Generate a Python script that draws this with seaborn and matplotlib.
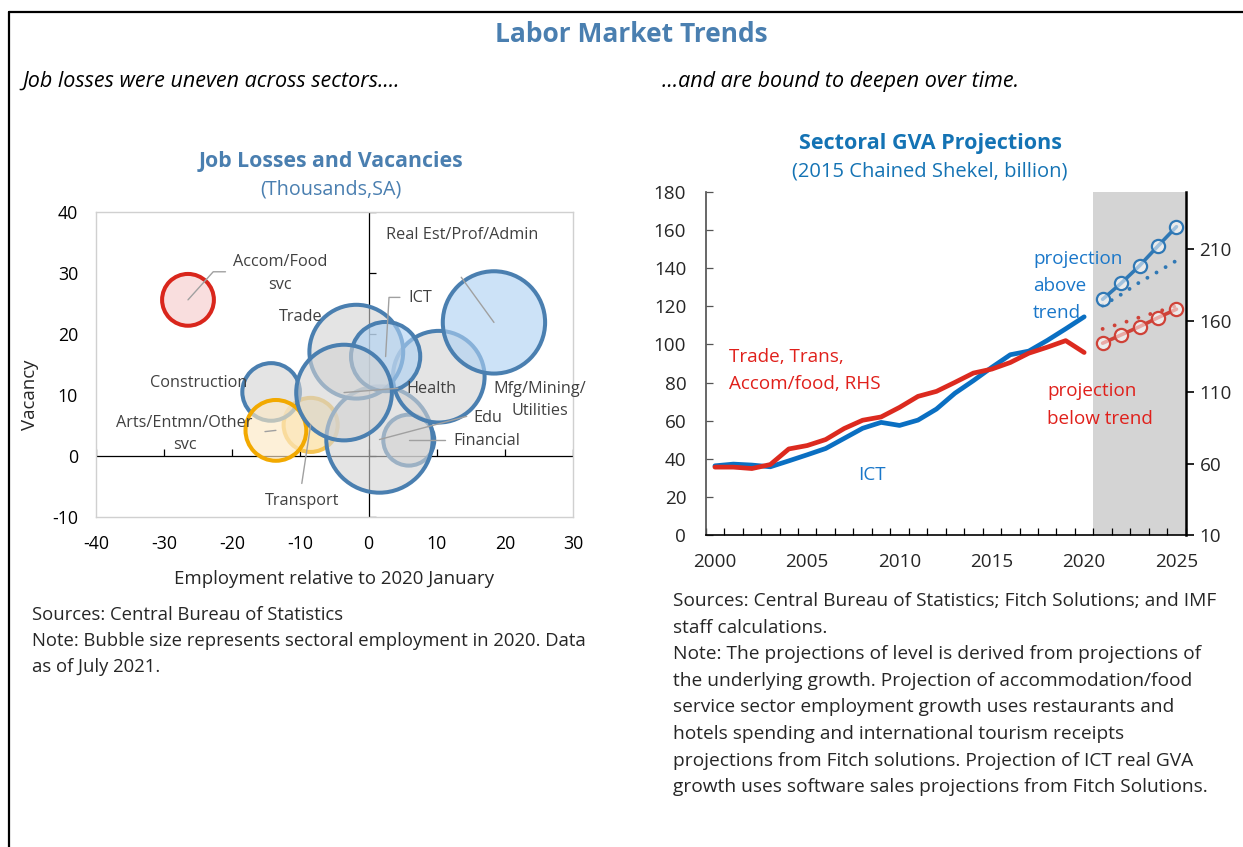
import matplotlib
matplotlib.use("Agg")
import numpy as np
import pandas as pd
import matplotlib.pyplot as plt
import seaborn as sns
from matplotlib.lines import Line2D
from matplotlib.colors import to_rgba

# -------------------------
# Data: job losses and vacancies (bubble chart)
# -------------------------
sectors = ["Transport", "Financial", "Edu", "Mfg/Mining/Utilities", "Trade",
           "Construction", "Arts/Entmn/Other svc", "ICT", "Health",
           "Real Est/Prof/Admin", "Accom/Food svc"]
emp_change = [-8.5, 5.9, 1.6, 10.3, -1.8, -14.3, -13.6, 2.5, -3.6, 18.4, -26.5]
vacancy = [5.1, 2.6, 2.7, 13.0, 17.1, 10.5, 4.2, 16.3, 10.4, 21.9, 25.6]
employment_2020 = [133, 118, 514, 382, 400, 151, 168, 218, 416, 476, 122]

# -------------------------
# Data: sectoral GVA (2015 chained shekel, billion)
# -------------------------
years = list(range(2000, 2021))
ict_gva = [36.3, 37.2, 36.7, 35.8, 38.9, 42.1, 45.4, 50.7, 56.0, 59.1, 57.5,
           60.3, 66.1, 74.4, 81.0, 88.0, 94.6, 96.5, 102.1, 108.2, 114.5]
trade_gva = [57.5, 57.5, 56.5, 59.3, 70.2, 72.6, 76.8, 84.5, 90.3, 92.6, 99.3,
             107.0, 110.5, 116.8, 123.3, 126.1, 130.7, 137.2, 141.4, 146.0, 137.7]
proj_years = [2021, 2022, 2023, 2024, 2025]
ict_proj = [123.7, 132.1, 141.3, 151.7, 161.8]
ict_trend = [120.4, 126.2, 132.6, 138.2, 144.0]
trade_proj = [144.2, 150.0, 155.8, 162.1, 168.0]
trade_trend = [154.2, 158.0, 162.3, 166.3, 170.3]

W, H = 1243, 847
STEEL = "#4a7fb0"
BLUE = "#0a6fc2"
RED = "#dc2a1f"
PBLUE = "#2f78b5"
PRED = "#cf4238"
TXT = "#404040"

sns.set_theme(style="white")
plt.rcParams["font.family"] = ["Open Sans", "DejaVu Sans"]
plt.rcParams["axes.unicode_minus"] = False

fig = plt.figure(figsize=(W / 100, H / 100), dpi=100)


def ftext(x, y, s, **kw):
    kw.setdefault("va", "center")
    fig.text(x / W, 1 - y / H, s, **kw)


def px_axes(x0, y0, x1, y1):
    return fig.add_axes([x0 / W, 1 - y1 / H, (x1 - x0) / W, (y1 - y0) / H])


# outer frame (left and top edges)
fig.add_artist(Line2D([9 / W, 9 / W], [0, 1 - 12 / H], transform=fig.transFigure,
                      color="black", lw=1.6))
fig.add_artist(Line2D([9 / W, 1], [1 - 12 / H, 1 - 12 / H], transform=fig.transFigure,
                      color="black", lw=1.6))

ftext(631, 35, "Labor Market Trends", ha="center", fontsize=19,
      fontweight="bold", color=STEEL)
ftext(22, 81, "Job losses were uneven across sectors....", ha="left",
      fontsize=15.5, style="italic", color="black")
ftext(662, 81, "...and are bound to deepen over time.", ha="left",
      fontsize=15.5, style="italic", color="black")

# -------------------------
# Left panel: bubble chart
# -------------------------
ftext(331, 161, "Job Losses and Vacancies", ha="center", fontsize=15.3,
      fontweight="bold", color=STEEL)
ftext(331, 189, "(Thousands,SA)", ha="center", fontsize=14.2, color=STEEL)

ax1 = px_axes(96, 212, 573, 517)
ax1.set_xlim(-40, 30)
ax1.set_ylim(-10, 40)
ax1.axhline(0, color="black", lw=0.9, zorder=1)
ax1.axvline(0, color="black", lw=0.9, zorder=1)

bub = pd.DataFrame({"sector": sectors, "x": emp_change, "y": vacancy,
                    "emp": employment_2020})
emax = bub["emp"].max()
sns.scatterplot(data=bub, x="x", y="y", size="emp", sizes=(0, 11.4 * emax),
                size_norm=(0, emax), legend=False, ax=ax1, zorder=3)

gray_face = to_rgba("#d3d3d3", 0.6)
blue_face = to_rgba("#aed1f3", 0.62)
face = {s: gray_face for s in sectors}
edge = {s: STEEL for s in sectors}
face["ICT"] = blue_face
face["Real Est/Prof/Admin"] = blue_face
face["Arts/Entmn/Other svc"] = to_rgba("#fce8c4", 0.65)
edge["Arts/Entmn/Other svc"] = "#f2a900"
face["Transport"] = to_rgba("#fbd98c", 0.6)
edge["Transport"] = "#f5c453"
face["Accom/Food svc"] = to_rgba("#f6c8c8", 0.6)
edge["Accom/Food svc"] = "#d9261c"

coll = ax1.collections[-1]
coll.set_facecolor([face[s] for s in sectors])
coll.set_edgecolor([edge[s] for s in sectors])
coll.set_linewidth(2.9)

# tick marks on the axes that cross at the origin
xt = np.arange(-40, 31, 10)
yt = np.arange(-10, 41, 10)
ax1.plot(xt, np.zeros_like(xt), ls="none", marker=2, ms=5, mew=0.9,
         color="black", zorder=1)
ax1.plot(np.zeros_like(yt), yt, ls="none", marker=1, ms=5, mew=0.9,
         color="black", zorder=1)

# labels with leader lines: (text lines, text x, text y, ha, leader path)
labels = {
    "Accom/Food svc": (["Accom/Food", "svc"], -13.0, 29.9, "center",
                       [(-21.0, 30.2), (-22.8, 30.2)]),
    "Real Est/Prof/Admin": (["Real Est/Prof/Admin"], 2.6, 36.3, "left",
                            [(13.6, 29.3)]),
    "ICT": (["ICT"], 5.8, 25.9, "left", [(4.6, 26.0), (3.0, 26.0)]),
    "Trade": (["Trade"], -10.0, 22.8, "center", None),
    "Construction": (["Construction"], -25.0, 11.9, "center", None),
    "Arts/Entmn/Other svc": (["Arts/Entmn/Other", "svc"], -27.0, 3.6, "center",
                             [(-15.2, 4.0)]),
    "Transport": (["Transport"], -9.8, -7.3, "center", [(-9.8, -4.5)]),
    "Health": (["Health"], 5.6, 11.0, "left", [(4.3, 11.1)]),
    "Mfg/Mining/Utilities": (["Mfg/Mining/", "Utilities"], 25.1, 9.2, "center",
                             None),
    "Edu": (["Edu"], 17.5, 6.2, "center", [(14.4, 6.5)]),
    "Financial": (["Financial"], 12.4, 2.5, "left", [(11.2, 2.6)]),
}
line_gap = 3.7  # vertical step between label lines, in data units
for s, cx, cy in zip(sectors, emp_change, vacancy):
    parts, tx, ty, ha, path = labels[s]
    if path:
        pts = path + [(cx, cy)]
        ax1.plot([p[0] for p in pts], [p[1] for p in pts], color="#a0a0a0",
                 lw=1.0, zorder=4)
    top = ty + line_gap * (len(parts) - 1) / 2
    for k, part in enumerate(parts):
        ax1.text(tx, top - k * line_gap, part, ha=ha, va="center",
                 fontsize=11.7, color=TXT, zorder=5)

ax1.set_xticks(xt)
ax1.set_yticks(yt)
ax1.tick_params(length=0, pad=13, labelsize=12.8, colors="black")
for sp in ax1.spines.values():
    sp.set_color("#d0d0d0")
    sp.set_linewidth(1.0)
ax1.set_xlabel("")
ax1.set_ylabel("")
ftext(30, 395, "Vacancy", ha="center", rotation=90, fontsize=13.4)
ftext(334, 579, "Employment relative to 2020 January", ha="center", fontsize=13.4)

left_notes = ["Sources: Central Bureau of Statistics",
              "Note: Bubble size represents sectoral employment in 2020. Data",
              "as of July 2021."]
for i, line in enumerate(left_notes):
    ftext(32, 615 + 26 * i, line, ha="left", fontsize=13.3)

# -------------------------
# Right panel: GVA projections
# -------------------------
ftext(930, 143, "Sectoral GVA Projections", ha="center", fontsize=15.5,
      fontweight="bold", color="#1473b4")
ftext(930, 171, "(2015 Chained Shekel, billion)", ha="center", fontsize=14.5,
      color="#1473b4")

ax2 = px_axes(705.7, 192, 1185.7, 535)
ax2.axvspan(2020.5, 2025.5, color="#d4d4d4", lw=0, zorder=0)
sns.lineplot(x=years, y=ict_gva, ax=ax2, color=BLUE, lw=3.4, zorder=3)
sns.lineplot(x=proj_years, y=ict_trend, ax=ax2, color=PBLUE, lw=2.8,
             linestyle=(0, (0.01, 2.7)), dash_capstyle="round", zorder=3)
sns.lineplot(x=proj_years, y=ict_proj, ax=ax2, color=PBLUE, lw=2.6,
             marker="o", markersize=9.5, markerfacecolor=to_rgba("white", 0.55),
             markeredgecolor=PBLUE, markeredgewidth=1.6, zorder=4)
ax2.set_xlim(1999.5, 2025.5)
ax2.set_ylim(0, 180)
ax2.set_yticks(np.arange(0, 181, 20))
ax2.set_xticks(np.arange(2000, 2026, 5))
ax2.set_xticks(np.arange(1999.5, 2026, 1), minor=True)
ax2.tick_params(axis="x", which="major", length=0, pad=13, labelsize=13.6)
ax2.tick_params(axis="x", which="minor", direction="in", length=5,
                width=0.9, color="black", bottom=True)
ax2.tick_params(axis="y", direction="in", length=5, width=0.9, pad=14,
                labelsize=13.6, color="#555555", left=True)
ax2.spines["top"].set_visible(False)
ax2.spines["right"].set_visible(False)
ax2.spines["left"].set_color("#555555")
ax2.spines["bottom"].set_color("black")
ax2.spines["bottom"].set_linewidth(1.2)
ax2.set_xlabel("")
ax2.set_ylabel("")

ax3 = ax2.twinx()
sns.lineplot(x=years, y=trade_gva, ax=ax3, color=RED, lw=3.4, zorder=3)
sns.lineplot(x=proj_years, y=trade_trend, ax=ax3, color=PRED, lw=2.8,
             linestyle=(0, (0.01, 3.2)), dash_capstyle="round", zorder=3)
sns.lineplot(x=proj_years, y=trade_proj, ax=ax3, color=PRED, lw=2.6,
             marker="o", markersize=9.5, markerfacecolor=to_rgba("white", 0.55),
             markeredgecolor=PRED, markeredgewidth=1.6, zorder=4)
ax3.set_ylim(10, 250)
ax3.set_yticks(np.arange(10, 211, 50))
ax3.tick_params(axis="y", direction="out", length=6, width=1.2, pad=4,
                labelsize=13.6, color="black", right=True)
for k in ["top", "left", "bottom"]:
    ax3.spines[k].set_visible(False)
ax3.spines["right"].set_color("black")
ax3.spines["right"].set_linewidth(1.8)
ax3.set_ylabel("")

ANN = 13.6
ftext(729, 357, "Trade, Trans,", ha="left", fontsize=ANN, color="#e0201b")
ftext(729, 384, "Accom/food, RHS", ha="left", fontsize=ANN, color="#e0201b")
ftext(872, 475, "ICT", ha="center", fontsize=ANN, color="#1a77c9")
for i, line in enumerate(["projection", "above", "trend"]):
    ftext(1033, 259 + 27 * i, line, ha="left", fontsize=ANN, color="#1a77c9")
ftext(1047, 391, "projection", ha="left", fontsize=ANN, color="#e0201b")
ftext(1047, 419, "below trend", ha="left", fontsize=ANN, color="#e0201b")

right_notes = ["Sources: Central Bureau of Statistics; Fitch Solutions; and IMF",
               "staff calculations.",
               "Note: The projections of level is derived from projections of",
               "the underlying growth. Projection of accommodation/food",
               "service sector employment growth uses restaurants and",
               "hotels spending and international tourism receipts",
               "projections from Fitch solutions. Projection of ICT real GVA",
               "growth uses software sales projections from Fitch Solutions."]
for i, line in enumerate(right_notes):
    ftext(673, 601 + 26.6 * i, line, ha="left", fontsize=13.8)

plt.savefig("out.png", dpi=100)
